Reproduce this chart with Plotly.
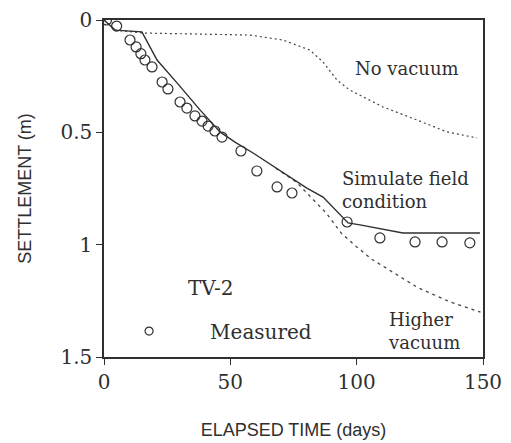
import plotly.graph_objects as go

# Measured settlement (TV-2)
meas_t = [1, 5, 10.3, 12.7, 14.6, 16.2, 19.0, 23.0, 25.3, 30.1, 32.8, 36.0, 38.8,
          41.2, 43.9, 46.7, 54.2, 60.5, 68.5, 74.4, 96.2, 109.2, 123.1, 133.8, 144.8]
meas_s = [0.0, 0.027, 0.089, 0.12, 0.15, 0.178, 0.209, 0.276, 0.307, 0.365, 0.392,
          0.427, 0.45, 0.472, 0.494, 0.521, 0.583, 0.672, 0.743, 0.77, 0.899, 0.97,
          0.988, 0.988, 0.992]

# Simulated field condition
sim_t = [0, 4.4, 15.0, 21.0, 28.9, 38.0, 45.9, 52, 59.0, 68.9, 80.3, 86.7, 94.6,
         96.6, 101.3, 108.0, 118.3, 148.8]
sim_s = [0, 0.045, 0.053, 0.178, 0.28, 0.40, 0.498, 0.545, 0.592, 0.663, 0.748,
         0.788, 0.877, 0.903, 0.912, 0.926, 0.948, 0.948]

# No vacuum
novac_t = [0, 4.4, 15.4, 30, 45, 57.8, 70.8, 81.5, 86.7, 92.2, 97.3, 110.4, 123.9, 135.7, 147.6]
novac_s = [0, 0.045, 0.058, 0.06, 0.063, 0.067, 0.089, 0.134, 0.187, 0.267, 0.312,
           0.387, 0.445, 0.498, 0.525]

# Higher vacuum
hivac_t = [68, 76, 82, 88, 94, 100, 106, 114, 124, 137, 149]
hivac_s = [0.66, 0.72, 0.79, 0.86, 0.95, 1.01, 1.065, 1.12, 1.19, 1.255, 1.30]

x_ticks = [0, 50, 100, 150]
y_ticks = [0, 0.5, 1, 1.5]
y_tick_labels = ["0", "0.5", "1", "1.5"]

ink = "#2f2f2f"
serif = "DejaVu Serif, serif"
sans = "Liberation Sans, Arial, sans-serif"

fig = go.Figure()
fig.add_trace(go.Scatter(x=novac_t, y=novac_s, mode="lines", showlegend=False,
                         line=dict(color="#444", width=1.2, dash="2px,3px")))
fig.add_trace(go.Scatter(x=hivac_t, y=hivac_s, mode="lines", showlegend=False,
                         line=dict(color="#444", width=1.3, dash="3px,4px")))
fig.add_trace(go.Scatter(x=sim_t, y=sim_s, mode="lines", showlegend=False,
                         line=dict(color=ink, width=1.4)))
fig.add_trace(go.Scatter(x=meas_t, y=meas_s, mode="markers", showlegend=False,
                         marker=dict(symbol="circle-open", size=10,
                                     color=ink, line=dict(width=1.2, color=ink))))
# legend-only entry
fig.add_trace(go.Scatter(x=[None], y=[None], mode="markers", name="Measured",
                         marker=dict(symbol="circle-open", size=8,
                                     color=ink, line=dict(width=1.2, color=ink))))

fig.update_layout(
    width=511, height=443,
    margin=dict(l=104, r=28, t=20, b=86),
    paper_bgcolor="white", plot_bgcolor="white",
    showlegend=True,
    legend=dict(x=-0.042, y=0.077, xanchor="left", yanchor="middle",
                bgcolor="rgba(0,0,0,0)", itemwidth=112,
                font=dict(family=serif, size=20, color=ink)),
    xaxis=dict(range=[0, 150], tickvals=x_ticks, ticks="outside", ticklen=6,
               tickcolor=ink, showline=True, linecolor=ink, linewidth=1.5,
               mirror=True, showgrid=False, zeroline=False, automargin=False,
               tickfont=dict(family=serif, size=20, color=ink),
               title=dict(text="ELAPSED TIME (days)", standoff=31,
                          font=dict(family=sans, size=18, color=ink))),
    yaxis=dict(range=[1.5, 0], tickvals=y_ticks, ticktext=y_tick_labels,
               ticks="outside", ticklen=6, tickcolor=ink, showline=True,
               linecolor=ink, linewidth=1.5, mirror=True, showgrid=False,
               zeroline=False, automargin=False,
               tickfont=dict(family=serif, size=20, color=ink),
               title=dict(text="SETTLEMENT (m)", standoff=24,
                          font=dict(family=sans, size=18, color=ink))),
)

ann_font = dict(family=serif, size=18, color=ink)
labels = [
    ("No vacuum", 0.80, 0.855, "center"),
    ("Simulate field<br>condition", 0.623, 0.496, "left"),
    ("Higher<br>vacuum", 0.743, 0.077, "left"),
]
for txt, px, py, anc in labels:
    fig.add_annotation(x=px, y=py, xref="paper", yref="paper", text=txt,
                       showarrow=False, font=ann_font, xanchor=anc,
                       yanchor="middle", align="left")
fig.add_annotation(x=0.28, y=0.205, xref="paper", yref="paper", text="TV-2",
                   showarrow=False, font=dict(family=serif, size=20, color=ink),
                   xanchor="center", yanchor="middle")

fig.write_html("out.html")
